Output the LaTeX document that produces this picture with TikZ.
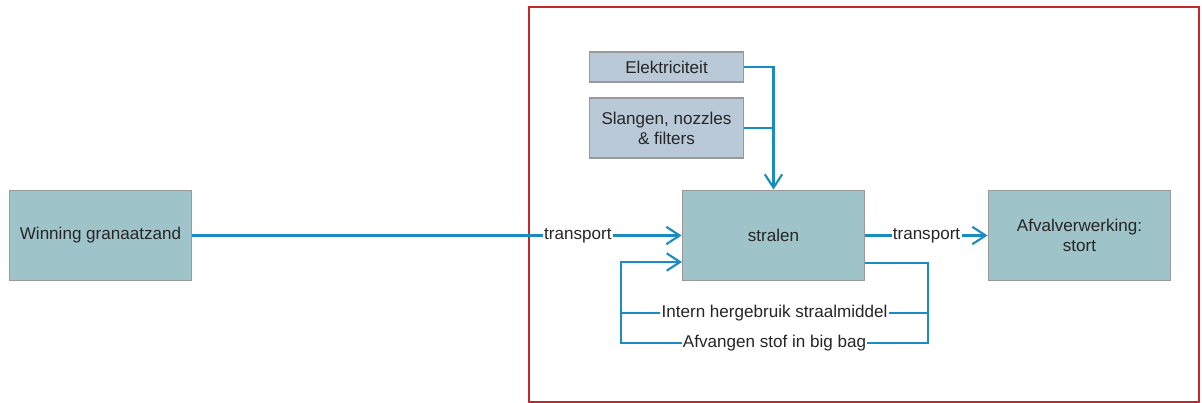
\documentclass[tikz,border=0pt]{standalone}
\usepackage{fontspec}
\setmainfont{Liberation Sans}
\usetikzlibrary{calc, arrows.meta}
\definecolor{flowblue}{HTML}{1B8CC0}
\definecolor{boxteal}{HTML}{9EC4C9}
\definecolor{boxgrey}{HTML}{B9C9D8}
\definecolor{framered}{HTML}{C1272D}
\tikzstyle{proc} = [draw=gray!80, fill=boxteal, rectangle, line width=0.8pt,
minimum width=137pt, minimum height=68pt, align=center, text=black!85]
\tikzstyle{input} = [draw=gray!80, fill=boxgrey, rectangle, line width=0.8pt,
minimum width=115pt, align=center, text=black!85]
\tikzstyle{flow} = [draw=flowblue, line width=1.6pt]
\tikzstyle{lbl} = [fill=white, inner sep=1pt, text=black!85]

\begin{document}
\begin{tikzpicture}[x=0.75pt,y=-0.75pt,>={Straight Barb[length=10pt,width=13pt]},
  font=\fontsize{12.8}{15}\selectfont]
      \useasboundingbox (0,0) rectangle (1202,403);
      \draw[framered, line width=1.4pt] (529,7) rectangle (1199,402);
      \node [proc] (win) at (100.5,235.5) {Winning granaatzand};
      \node [proc] (stralen) at (773.5,235.5) {stralen};
      \node [proc] (afval) at (1079.5,235.5) {Afvalverwerking:\\stort};
      \node [input, minimum height=22.5pt] (elek) at (666.5,67) {Elektriciteit};
      \node [input, minimum height=45pt] (slang) at (666.5,128) {Slangen, nozzles\\\& filters};
      \coordinate (loopin) at (682,262);
      \coordinate (loopout) at (865,263);
      \coordinate (rtop) at (928,263);
      \coordinate (rmid) at (928,313);
      \coordinate (rbot) at (928,343);
      \coordinate (lbot) at (621,343);
      \coordinate (lmid) at (621,313);
      \coordinate (ltop) at (621,262);
      \path[flow, ->] (win) edge node [lbl, pos=0.788] {transport} (stralen);
      \draw[flow, ->] (elek.east) -| (stralen.north);
      \draw[flow] (slang.east) -- (slang.east -| stralen.north);
      \path[flow, ->] (stralen) edge node [lbl] {transport} (afval);
      \draw[flow, ->] (loopout) -- (rtop) -- (rbot) -- node [lbl] {Afvangen stof in big bag} (lbot) -- (ltop) -- (loopin);
      \draw[flow] (lmid) -- node [lbl] {Intern hergebruik straalmiddel} (rmid);
  \end{tikzpicture}
\end{document}
